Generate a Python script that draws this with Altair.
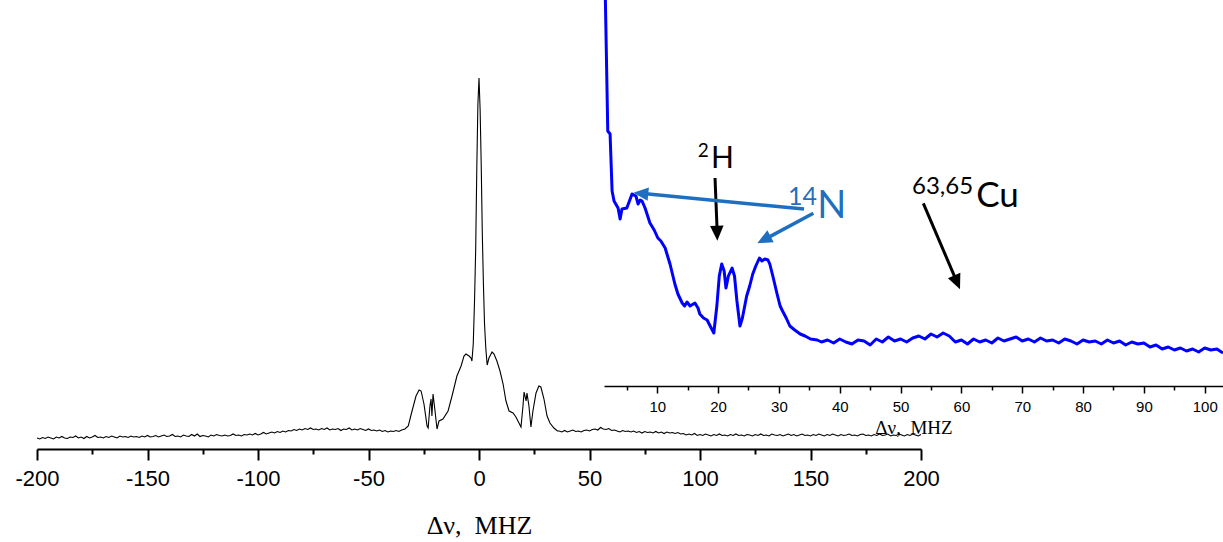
import altair as alt
import pandas as pd

# ---------------- main spectrum (a.u.) ----------------
left_freq = [
    -200, -198.75, -197.5, -196.25, -195, -193.75, -192.5, -191.25,
    -190, -188.75, -187.5, -186.25, -185, -183.75, -182.5, -181.25,
    -180, -178.75, -177.5, -176.25, -175, -173.75, -172.5, -171.25,
    -170, -168.75, -167.5, -166.25, -165, -163.75, -162.5, -161.25,
    -160, -158.75, -157.5, -156.25, -155, -153.75, -152.5, -151.25,
    -150, -148.75, -147.5, -146.25, -145, -143.75, -142.5, -141.25,
    -140, -138.75, -137.5, -136.25, -135, -133.75, -132.5, -131.25,
    -130, -128.75, -127.5, -126.25, -125, -123.75, -122.5, -121.25,
    -120, -118.75, -117.5, -116.25, -115, -113.75, -112.5, -111.25,
    -110, -108.75, -107.5, -106.25, -105, -103.75, -102.5, -101.25,
    -100, -98.75, -97.5, -96.25, -95, -93.75, -92.5, -91.25,
    -90, -88.75, -87.5, -86.25, -85, -83.75, -82.5, -81.25,
    -80, -78.75, -77.5, -76.25, -75, -73.75, -72.5, -71.25,
    -70, -68.75, -67.5, -66.25, -65, -63.75, -62.5, -61.25,
    -60, -58.75, -57.5, -56.25, -55, -53.75, -52.5, -51.25,
    -50, -48.75, -47.5, -46.25, -45, -43.75, -42.5, -41.25,
    -40, -38.75, -37.5, -36.25, -35,
]
left_int = [
    11, 10, 11.5, 10.5, 12, 11, 10, 12,
    11, 12.5, 11, 10.5, 12, 11.5, 13, 11,
    12, 10.5, 12.5, 11, 12, 13.5, 11.5, 12,
    11, 12.5, 11.5, 13, 12, 11, 13, 12,
    12.5, 11.5, 13, 12, 12.5, 11.5, 13, 12,
    13.5, 12, 12.5, 13.5, 12, 13, 14, 12.5,
    13, 14.5, 12.5, 13, 12, 14, 13, 12.5,
    14.5, 13, 15, 12.5, 13.5, 13, 12, 14,
    13, 14.5, 13.5, 13, 14, 13, 13.5, 15,
    13.5, 14, 13, 14.5, 14, 15, 14, 15.5,
    14, 15, 16.5, 15, 16, 17, 16, 17.5,
    16.5, 18, 17, 18.5, 18, 19.5, 18.5, 20,
    19, 20.5, 19.5, 21, 19.5, 20, 19, 20.5,
    19.5, 21, 19, 20, 19.5, 20.5, 18.5, 20,
    19.5, 21, 19, 20, 19, 20.5, 19.5, 18.5,
    20, 18.5, 19, 18, 19, 17.5, 18.5, 17,
    18, 17.5, 18.5, 17.5, 19,
]
center_freq = [
    -33.5, -32, -30.3, -28.5, -27.1, -26.2, -24.9, -23.5, -23.0, -22.2, -21.7, -21.3,
    -20.8, -19.9, -19.0, -18.1, -16.3, -14.0, -12.2, -10, -8.1, -6.8, -5.9, -4.5,
    -3.6, -3.2, -2.6, -2.0, -1.5, -1.0, -0.5, 0, 0.5, 1.0, 1.5, 2.0,
    2.5, 3.1, 3.7, 4.5, 5.9, 6.8, 8.1, 9.5, 10.9, 12.2, 13.6, 15.4,
    16.7, 19.0, 19.9, 20.4, 21.3, 21.7, 22.6, 23.5, 24.4, 25.8, 27.1, 28.0,
    29.4, 30.8, 32.1, 33.9, 35.5,
]
center_int = [
    20, 23, 38, 53, 59, 58, 45, 23, 21, 43, 50, 33,
    55, 38, 20, 28, 30, 38, 53, 73, 83, 93, 95, 93,
    91, 88, 105, 150, 200, 280, 345, 371, 340, 285, 215, 165,
    125, 100, 84, 91, 97, 95, 88, 78, 65, 48, 38, 36,
    32, 22, 43, 57, 48, 56, 43, 22, 38, 56, 63, 62,
    50, 33, 26, 21, 18,
]
right_freq = [
    36.25, 37.5, 38.75, 40, 41.25, 42.5, 43.75, 45,
    46.25, 47.5, 48.75, 50, 51.25, 52.5, 53.75, 55,
    56.25, 57.5, 58.75, 60, 61.25, 62.5, 63.75, 65,
    66.25, 67.5, 68.75, 70, 71.25, 72.5, 73.75, 75,
    76.25, 77.5, 78.75, 80, 81.25, 82.5, 83.75, 85,
    86.25, 87.5, 88.75, 90, 91.25, 92.5, 93.75, 95,
    96.25, 97.5, 98.75, 100, 101.25, 102.5, 103.75, 105,
    106.25, 107.5, 108.75, 110, 111.25, 112.5, 113.75, 115,
    116.25, 117.5, 118.75, 120, 121.25, 122.5, 123.75, 125,
    126.25, 127.5, 128.75, 130, 131.25, 132.5, 133.75, 135,
    136.25, 137.5, 138.75, 140, 141.25, 142.5, 143.75, 145,
    146.25, 147.5, 148.75, 150, 151.25, 152.5, 153.75, 155,
    156.25, 157.5, 158.75, 160, 161.25, 162.5, 163.75, 165,
    166.25, 167.5, 168.75, 170, 171.25, 172.5, 173.75, 175,
    176.25, 177.5, 178.75, 180, 181.25, 182.5, 183.75, 185,
    186.25, 187.5, 188.75, 190, 191.25, 192.5, 193.75, 195,
    196.25, 197.5, 198.75, 200,
]
right_int = [
    18, 17, 18.5, 17, 18, 19, 17.5, 18,
    17, 18.5, 19, 18, 19.5, 20, 19, 21.5,
    20, 19.5, 20.5, 18.5, 19, 18, 17, 18.5,
    17.5, 18, 17, 18, 16.5, 17.5, 16, 17.5,
    16.5, 17, 16, 17.5, 16, 17, 15.5, 17,
    16, 16.5, 15.5, 16.5, 15, 15.5, 14, 15,
    14, 15.5, 13.5, 14.5, 13.5, 15, 14, 13,
    14.5, 13.5, 15, 13.5, 14, 13, 14.5, 13.5,
    15, 13.5, 14, 13, 14.5, 14, 13, 14.5,
    13.5, 15, 13.5, 14, 13, 15, 14, 13.5,
    14.5, 13, 14, 15, 13.5, 14.5, 13, 14,
    15, 13.5, 14, 13, 14.5, 13.5, 15, 14,
    13, 14.5, 13.5, 15, 14, 13, 14.5, 13.5,
    14, 15, 13.5, 14, 13, 14.5, 15, 13.5,
    14, 13, 14.5, 13.5, 15, 13.5, 14, 15,
    13, 14, 13.5, 15, 14, 13, 14.5, 13.5,
    15, 14, 13, 14.5,
]
main_ticks = [-200, -150, -100, -50, 0, 50, 100, 150, 200]
main_minor = [-175, -125, -75, -25, 25, 75, 125, 175]

# ---------------- inset (zoom of 0-103 MHz, a.u.) ----------------
inset_freq = [
    1.45, 1.87, 2.25, 2.58, 2.9, 3.56, 3.9, 4.2, 5.0, 5.86, 6.5, 6.85,
    7.2, 7.5, 8.0, 8.8, 9.5, 10.1, 10.6, 11.3, 11.6, 12.1, 12.9, 13.4,
    14.1, 14.5, 14.9, 15.4, 16.2, 16.7, 17.0, 17.6, 18.2, 18.7, 19.3, 19.8,
    20.2, 20.6, 21.0, 21.3, 21.7, 22.3, 22.7, 23.1, 23.6, 24.0, 24.7, 25.2,
    25.7, 26.2, 26.8, 27.2, 27.7, 28.2, 28.5, 29.0, 29.7, 30.2, 30.6, 31.2,
    31.8, 32.6, 33.5, 34.3, 35.2, 36.3,
    37, 38, 39, 40, 41, 42, 43, 44, 45, 46, 47, 48,
    49, 50, 51, 52, 53, 54, 55, 56, 57, 58, 59, 60,
    61, 62, 63, 64, 65, 66, 67, 68, 69, 70, 71, 72,
    73, 74, 75, 76, 77, 78, 79, 80, 81, 82, 83, 84,
    85, 86, 87, 88, 89, 90, 91, 92, 93, 94, 95, 96,
    97, 98, 99, 100, 101, 102, 103,
]
inset_int = [
    395, 255, 252, 195, 185, 178, 167, 177, 178, 192, 190, 182,
    186, 185, 178, 163, 156, 148, 145, 138, 132, 122, 102, 92,
    83, 80, 84, 80, 83, 78, 72, 68, 66, 60, 53, 80,
    110, 122, 115, 98, 110, 118, 110, 85, 60, 68, 90, 100,
    112, 120, 128, 125, 127, 126, 122, 110, 92, 80, 75, 68,
    60, 56, 52, 50, 47, 46,
    44, 46, 43, 47, 44, 42, 46, 45, 41, 47, 44, 49,
    45, 47, 44, 48, 50, 47, 52, 49, 53, 50, 44, 46,
    42, 47, 44, 46, 43, 48, 45, 47, 49, 45, 47, 44,
    48, 45, 46, 43, 47, 45, 42, 46, 44, 45, 42, 46,
    43, 45, 41, 44, 42, 43, 39, 41, 37, 39, 36, 38,
    35, 37, 34, 38, 36, 37, 33,
]
inset_ticks = [10, 20, 30, 40, 50, 60, 70, 80, 90, 100]
inset_minor = [5, 15, 25, 35, 45, 55, 65, 75, 85, 95]

# ---------------- annotations (inset data coordinates) ----------------
arrow_name = ["2H", "14N-a", "14N-b", "Cu"]
arrow_f0 = [19.5, 34.13, 35.66, 53.74]
arrow_h0 = [208, 177, 172.7, 182.7]
arrow_f1 = [19.83, 7.71, 27.9, 59.13]
arrow_h1 = [158, 192.4, 147.4, 105.9]
arrow_ftip = [19.88, 6.07, 26.45, 59.77]
arrow_htip = [145.3, 193.3, 142.7, 96.7]
arrow_angle = [178, 275.5, 241.8, 156.9]
arrow_color = ["#000000", "#1F6FC1", "#1F6FC1", "#000000"]
arrow_width = [3, 3.5, 3.5, 3]

label_text = ["2", "H", "14", "N", "63,65", "Cu"]
label_f = [17.57, 20.73, 33.88, 38.68, 56.9, 65.94]
label_h = [228.7, 217.7, 181, 167.7, 192, 179.3]
label_size = [19, 30, 25, 38, 24, 35]
label_color = ["#000000", "#000000", "#1F6FC1", "#1F6FC1", "#000000", "#000000"]

main_df = pd.DataFrame({
    "freq": left_freq + center_freq + right_freq,
    "intensity": left_int + center_int + right_int,
})
inset_df = pd.DataFrame({"freq": inset_freq, "intensity": inset_int})
arrows_df = pd.DataFrame({
    "name": arrow_name, "f0": arrow_f0, "h0": arrow_h0, "f1": arrow_f1, "h1": arrow_h1,
    "ftip": arrow_ftip, "htip": arrow_htip, "angle": arrow_angle,
    "color": arrow_color, "w": arrow_width,
})
labels_df = pd.DataFrame({
    "text": label_text, "f": label_f, "h": label_h,
    "size": label_size, "color": label_color,
})

W, H = 1223, 542
MAIN_AXIS_Y = 449
INSET_AXIS_Y = 386

main_x = alt.Scale(domain=[-200, 200], range=[37, 921], nice=False, zero=False)
main_y = alt.Scale(domain=[0, 371], range=[MAIN_AXIS_Y, 78], nice=False, zero=False)
inset_x = alt.Scale(domain=[1.25, 103], range=[604, 1223], nice=False, zero=False)
inset_y = alt.Scale(domain=[0, 386], range=[INSET_AXIS_Y, 0], nice=False, zero=False)

main_line = alt.Chart(main_df).mark_line(color="black", strokeWidth=1.1).encode(
    x=alt.X("freq:Q", scale=main_x, axis=alt.Axis(
        orient="bottom", offset=MAIN_AXIS_Y - H, values=main_ticks, grid=False,
        domainColor="black", domainWidth=2, tickColor="black", tickWidth=2, tickSize=11,
        labelFont="Liberation Sans", labelFontSize=22, labelColor="black", labelPadding=8,
        labelFlush=False, labelOverlap=False, labelExpr="'' + datum.value",
        title="Δν,\u00a0\u00a0MHZ", titleFont="Liberation Serif", titleFontSize=26,
        titleFontWeight="normal", titleColor="black", titleBaseline="alphabetic",
        titleY=84,
    )),
    y=alt.Y("intensity:Q", scale=main_y, axis=None),
)

main_minor_axis = alt.Chart(pd.DataFrame({"t": main_minor})).mark_point(opacity=0).encode(
    x=alt.X("t:Q", scale=main_x, axis=alt.Axis(
        orient="bottom", offset=MAIN_AXIS_Y - H, values=main_minor, grid=False,
        domain=False, labels=False, tickColor="black", tickWidth=2, tickSize=5, title=None,
    )),
    y=alt.value(0),
)

inset_line = alt.Chart(inset_df).mark_line(
    color="#0000FF", strokeWidth=3, strokeJoin="round", clip=True
).encode(
    x=alt.X("freq:Q", scale=inset_x, axis=alt.Axis(
        orient="bottom", offset=INSET_AXIS_Y - H, values=inset_ticks, grid=False,
        domainColor="black", domainWidth=1.5, tickColor="black", tickWidth=1.5, tickSize=7,
        labelFont="Liberation Sans", labelFontSize=15, labelColor="black", labelPadding=6,
        labelFlush=False, labelOverlap=False,
        title="Δν,\u00a0\u00a0MHZ", titleFont="Liberation Serif", titleFontSize=19,
        titleFontWeight="normal", titleColor="black", titleBaseline="alphabetic",
        titleY=47,
    )),
    y=alt.Y("intensity:Q", scale=inset_y, axis=None),
)

inset_minor_axis = alt.Chart(pd.DataFrame({"t": inset_minor})).mark_point(opacity=0).encode(
    x=alt.X("t:Q", scale=inset_x, axis=alt.Axis(
        orient="bottom", offset=INSET_AXIS_Y - H, values=inset_minor, grid=False,
        domain=False, labels=False, tickColor="black", tickWidth=1.5, tickSize=4, title=None,
    )),
    y=alt.value(0),
)

shafts = alt.Chart(arrows_df).mark_rule(strokeCap="butt").encode(
    x=alt.X("f0:Q", scale=inset_x, axis=None),
    x2="f1:Q",
    y=alt.Y("h0:Q", scale=inset_y, axis=None),
    y2="h1:Q",
    color=alt.Color("color:N", scale=None),
    strokeWidth=alt.StrokeWidth("w:Q", scale=None),
)

heads = alt.Chart(arrows_df).mark_point(
    shape="M0,0L0.9,2L-0.9,2Z", filled=True, opacity=1, strokeWidth=0
).encode(
    x=alt.X("ftip:Q", scale=inset_x, axis=None),
    y=alt.Y("htip:Q", scale=inset_y, axis=None),
    angle=alt.Angle("angle:Q", scale=None),
    color=alt.Color("color:N", scale=None),
    size=alt.value(225),
)

texts = alt.Chart(labels_df).mark_text(
    font="Lato", align="center", baseline="alphabetic"
).encode(
    x=alt.X("f:Q", scale=inset_x, axis=None),
    y=alt.Y("h:Q", scale=inset_y, axis=None),
    text="text:N",
    size=alt.Size("size:Q", scale=None),
    color=alt.Color("color:N", scale=None),
)

chart = alt.layer(
    main_line, main_minor_axis, inset_line, inset_minor_axis, shafts, heads, texts
).resolve_scale(
    x="independent", y="independent"
).properties(
    width=W, height=H, padding=0, autosize=alt.AutoSizeParams(type="none"),
    background="white",
).configure_view(stroke=None)

chart.save("out.html", embed_options={"renderer": "svg", "actions": False})
